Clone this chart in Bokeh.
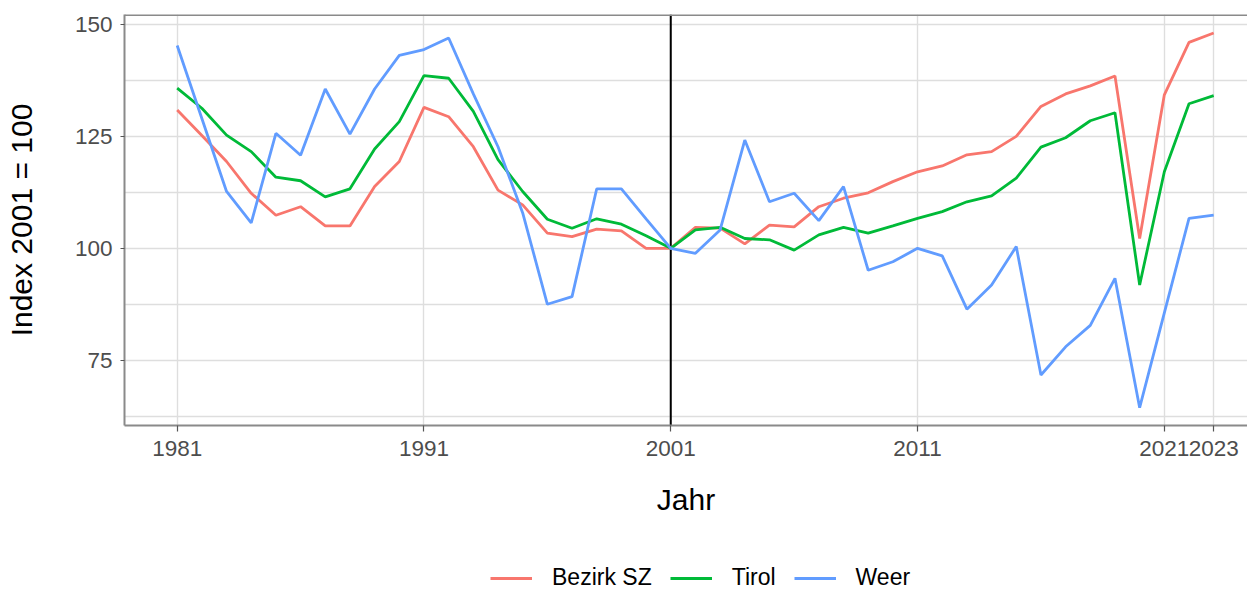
from bokeh.plotting import figure
from bokeh.models import Range1d, FixedTicker, Span, Legend, LegendItem
from bokeh.layouts import column
from bokeh.embed import file_html
from bokeh.resources import INLINE

years = list(range(1981, 2024))

bezirk_sz = [130.9, 125.2, 119.4, 112.3, 107.4, 109.3, 105.0, 105.0, 113.8, 119.4,
             131.5, 129.4, 122.7, 113.0, 109.7, 103.4, 102.6, 104.3, 103.9, 100.0,
             100.0, 104.7, 104.5, 101.0, 105.2, 104.8, 109.3, 111.2, 112.4, 114.9,
             117.1, 118.4, 120.9, 121.6, 125.0, 131.7, 134.5, 136.3, 138.5, 102.2,
             134.3, 146.0, 148.1]

tirol = [135.8, 131.3, 125.3, 121.6, 115.9, 115.1, 111.5, 113.3, 122.2, 128.3,
         138.6, 138.0, 130.6, 119.8, 112.7, 106.5, 104.5, 106.6, 105.4, 102.8,
         100.0, 104.1, 104.7, 102.2, 101.9, 99.6, 103.0, 104.7, 103.4, 105.0,
         106.7, 108.2, 110.4, 111.7, 115.7, 122.6, 124.7, 128.5, 130.3, 91.8,
         117.1, 132.3, 134.1]

weer = [145.3, 129.0, 112.7, 105.7, 125.7, 120.8, 135.6, 125.5, 135.6, 143.1,
        144.4, 147.0, 134.5, 122.7, 107.9, 87.5, 89.2, 113.3, 113.3, 106.6,
        100.0, 98.9, 104.1, 124.2, 110.4, 112.3, 106.2, 113.8, 95.1, 97.0,
        100.0, 98.3, 86.4, 91.8, 100.4, 71.7, 78.0, 82.8, 93.3, 64.4,
        85.6, 106.7, 107.4]

series_names = ["Bezirk SZ", "Tirol", "Weer"]
series_colors = ["#F8766D", "#00BA38", "#619CFF"]

x_ticks = [1981, 1991, 2001, 2011, 2021, 2023]
y_ticks = [75, 100, 125, 150]
y_minor = [62.5, 87.5, 112.5, 137.5]
ref_year = 2001

x_start, x_end = 1978.865, 2024.37
y_start, y_end = 60.42, 152.24

FONT = "Liberation Sans"
BORDER = "#8a8a8a"
GRID = "#dedede"
W = 1247
H_MAIN = 551
H_LEG = 40
FRAME_LEFT = 124

p = figure(width=W, height=H_MAIN, output_backend="svg", toolbar_location=None,
           x_range=Range1d(x_start, x_end), y_range=Range1d(y_start, y_end),
           min_border_left=FRAME_LEFT, min_border_right=0, min_border_top=14,
           min_border_bottom=H_MAIN - 425)
p.outline_line_color = None
p.background_fill_color = "white"
p.border_fill_color = "white"

yt = FixedTicker(ticks=y_ticks, minor_ticks=y_minor)
xt = FixedTicker(ticks=x_ticks, minor_ticks=[])
p.yaxis.ticker = yt
p.xaxis.ticker = xt
p.ygrid.ticker = yt
p.xgrid.ticker = xt

p.xgrid.grid_line_color = GRID
p.xgrid.grid_line_width = 1.4
p.ygrid.grid_line_color = GRID
p.ygrid.grid_line_width = 1.4
p.ygrid.minor_grid_line_color = GRID
p.ygrid.minor_grid_line_width = 1.4

for ax in (p.xaxis[0], p.yaxis[0]):
    ax.axis_line_color = BORDER
    ax.axis_line_width = 2
    ax.major_tick_line_color = "#555555"
    ax.major_tick_line_width = 1.2
    ax.major_tick_in = 0
    ax.minor_tick_line_color = None
    ax.major_label_text_font = FONT
    ax.major_label_text_font_size = "22.5px"
    ax.major_label_text_color = "#4d4d4d"
    ax.axis_label_text_font = FONT
    ax.axis_label_text_font_size = "30px"
    ax.axis_label_text_font_style = "normal"
    ax.axis_label_text_color = "black"

p.xaxis.major_tick_out = 6
p.xaxis.major_label_standoff = 9
p.xaxis.axis_label = "Jahr"
p.xaxis.axis_label_standoff = 24

p.yaxis.major_tick_out = 4
p.yaxis.major_label_standoff = 8
p.yaxis.axis_label = "Index 2001 = 100"
p.yaxis.axis_label_standoff = 34

top_border = Span(location=y_end, dimension="width", line_color=BORDER, line_width=3)
p.add_layout(top_border)

vline = Span(location=ref_year, dimension="height", line_color="black", line_width=2,
             level="underlay")
p.add_layout(vline)

all_series = [bezirk_sz, tirol, weer]
for name, vals, col in zip(series_names, all_series, series_colors):
    p.line(years, vals, line_color=col, line_width=2.8)

# legend strip below the main chart (its frame is aligned with the main frame)
p2 = figure(width=W, height=H_LEG, output_backend="svg", toolbar_location=None,
            x_axis_location=None, y_axis_location=None,
            x_range=Range1d(0, 1), y_range=Range1d(0, 1), min_border=0)
p2.outline_line_color = None
p2.grid.grid_line_color = None
# single-point proxies (a one-point line draws nothing; it only provides the legend key)
leg_renderers = [p2.line(years[:1], vals[:1], line_color=c, line_width=2.8)
                 for vals, c in zip(all_series, series_colors)]

items = [LegendItem(label=n, renderers=[r]) for n, r in zip(series_names, leg_renderers)]
legend = Legend(items=items, orientation="horizontal", location=(490 - FRAME_LEFT, 0),
                glyph_width=42, glyph_height=26, label_standoff=20, spacing=18,
                padding=0, margin=0, border_line_color=None, background_fill_alpha=0,
                label_text_font=FONT, label_text_font_size="23px", label_text_color="black")
p2.add_layout(legend)

layout = column(p, p2, spacing=0)
open("out.html", "w").write(file_html(layout, INLINE))
